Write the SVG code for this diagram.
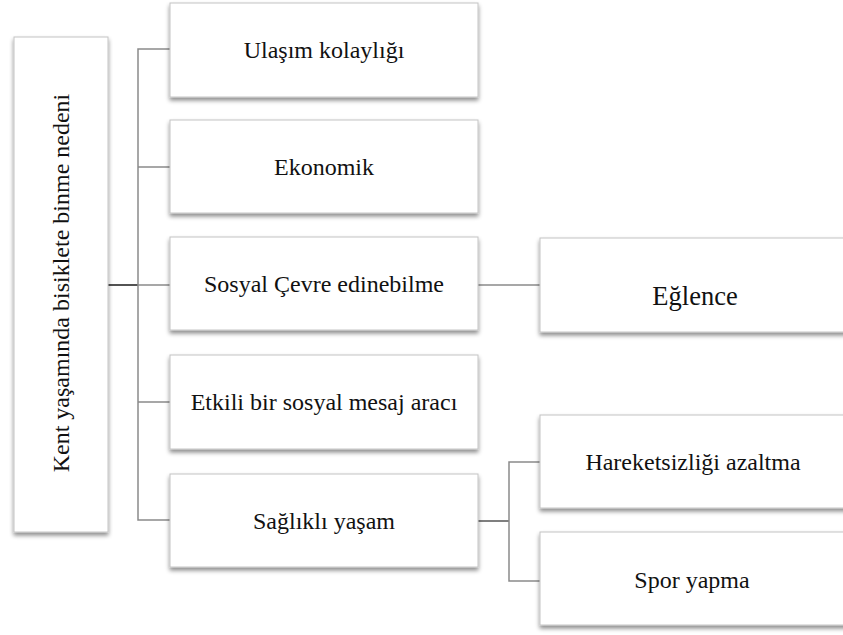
<svg xmlns="http://www.w3.org/2000/svg" width="843" height="635" viewBox="0 0 843 635">
  <defs>
    <filter id="shadow" x="-5%" y="-5%" width="110%" height="115%">
      <feDropShadow dx="0" dy="3" stdDeviation="2" flood-color="#000" flood-opacity="0.45"/>
    </filter>
  </defs>
  <style>
    .box { fill: #ffffff; stroke: #c4c4c4; stroke-width: 1; filter: url(#shadow); }
    text { font-family: 'Liberation Serif', 'DejaVu Serif', serif; font-size: 24px; fill: #111; text-anchor: middle; }
    .big { font-size: 26.5px; }
    .wire { fill: none; stroke: #8a8a8a; stroke-width: 1.5; }
    .stem { fill: none; stroke: #1a1a1a; stroke-width: 1.5; }
    .stem2 { fill: none; stroke: #555; stroke-width: 1.5; }
  </style>

  <!-- connectors -->
  <g id="connectors">
    <line class="stem" x1="108" y1="285" x2="138" y2="285"/>
    <path class="wire" d="M170 49 H138 V520 H170"/>
    <line class="wire" x1="138" y1="167" x2="170" y2="167"/>
    <line class="wire" x1="138" y1="285" x2="170" y2="285"/>
    <line class="wire" x1="138" y1="402" x2="170" y2="402"/>
    <line class="wire" x1="478" y1="285" x2="540" y2="285"/>
    <line class="stem2" x1="478" y1="521" x2="509" y2="521"/>
    <path class="wire" d="M540 462 H509 V581 H540"/>
  </g>

  <!-- root -->
  <g id="root">
    <rect class="box" x="14" y="37" width="94" height="495"/>
    <text transform="translate(69 283) rotate(-90)">Kent yaşamında bisiklete binme nedeni</text>
  </g>

  <!-- first level -->
  <g id="ulasim">
    <rect class="box" x="170" y="3" width="308" height="94"/>
    <text x="324" y="58">Ulaşım kolaylığı</text>
  </g>
  <g id="ekonomik">
    <rect class="box" x="170" y="120" width="308" height="93"/>
    <text x="324" y="175">Ekonomik</text>
  </g>
  <g id="sosyal-cevre">
    <rect class="box" x="170" y="237" width="308" height="93"/>
    <text x="324" y="292">Sosyal Çevre edinebilme</text>
  </g>
  <g id="mesaj">
    <rect class="box" x="170" y="355" width="308" height="94"/>
    <text x="324" y="410">Etkili bir sosyal mesaj aracı</text>
  </g>
  <g id="saglikli">
    <rect class="box" x="170" y="474" width="308" height="93"/>
    <text x="324" y="529">Sağlıklı yaşam</text>
  </g>

  <!-- second level -->
  <g id="eglence">
    <rect class="box" x="540" y="238" width="310" height="94"/>
    <text class="big" x="695" y="305">Eğlence</text>
  </g>
  <g id="hareketsizlik">
    <rect class="box" x="540" y="415" width="310" height="93"/>
    <text x="693" y="470">Hareketsizliği azaltma</text>
  </g>
  <g id="spor">
    <rect class="box" x="540" y="532" width="310" height="93"/>
    <text x="692" y="588">Spor yapma</text>
  </g>
</svg>
